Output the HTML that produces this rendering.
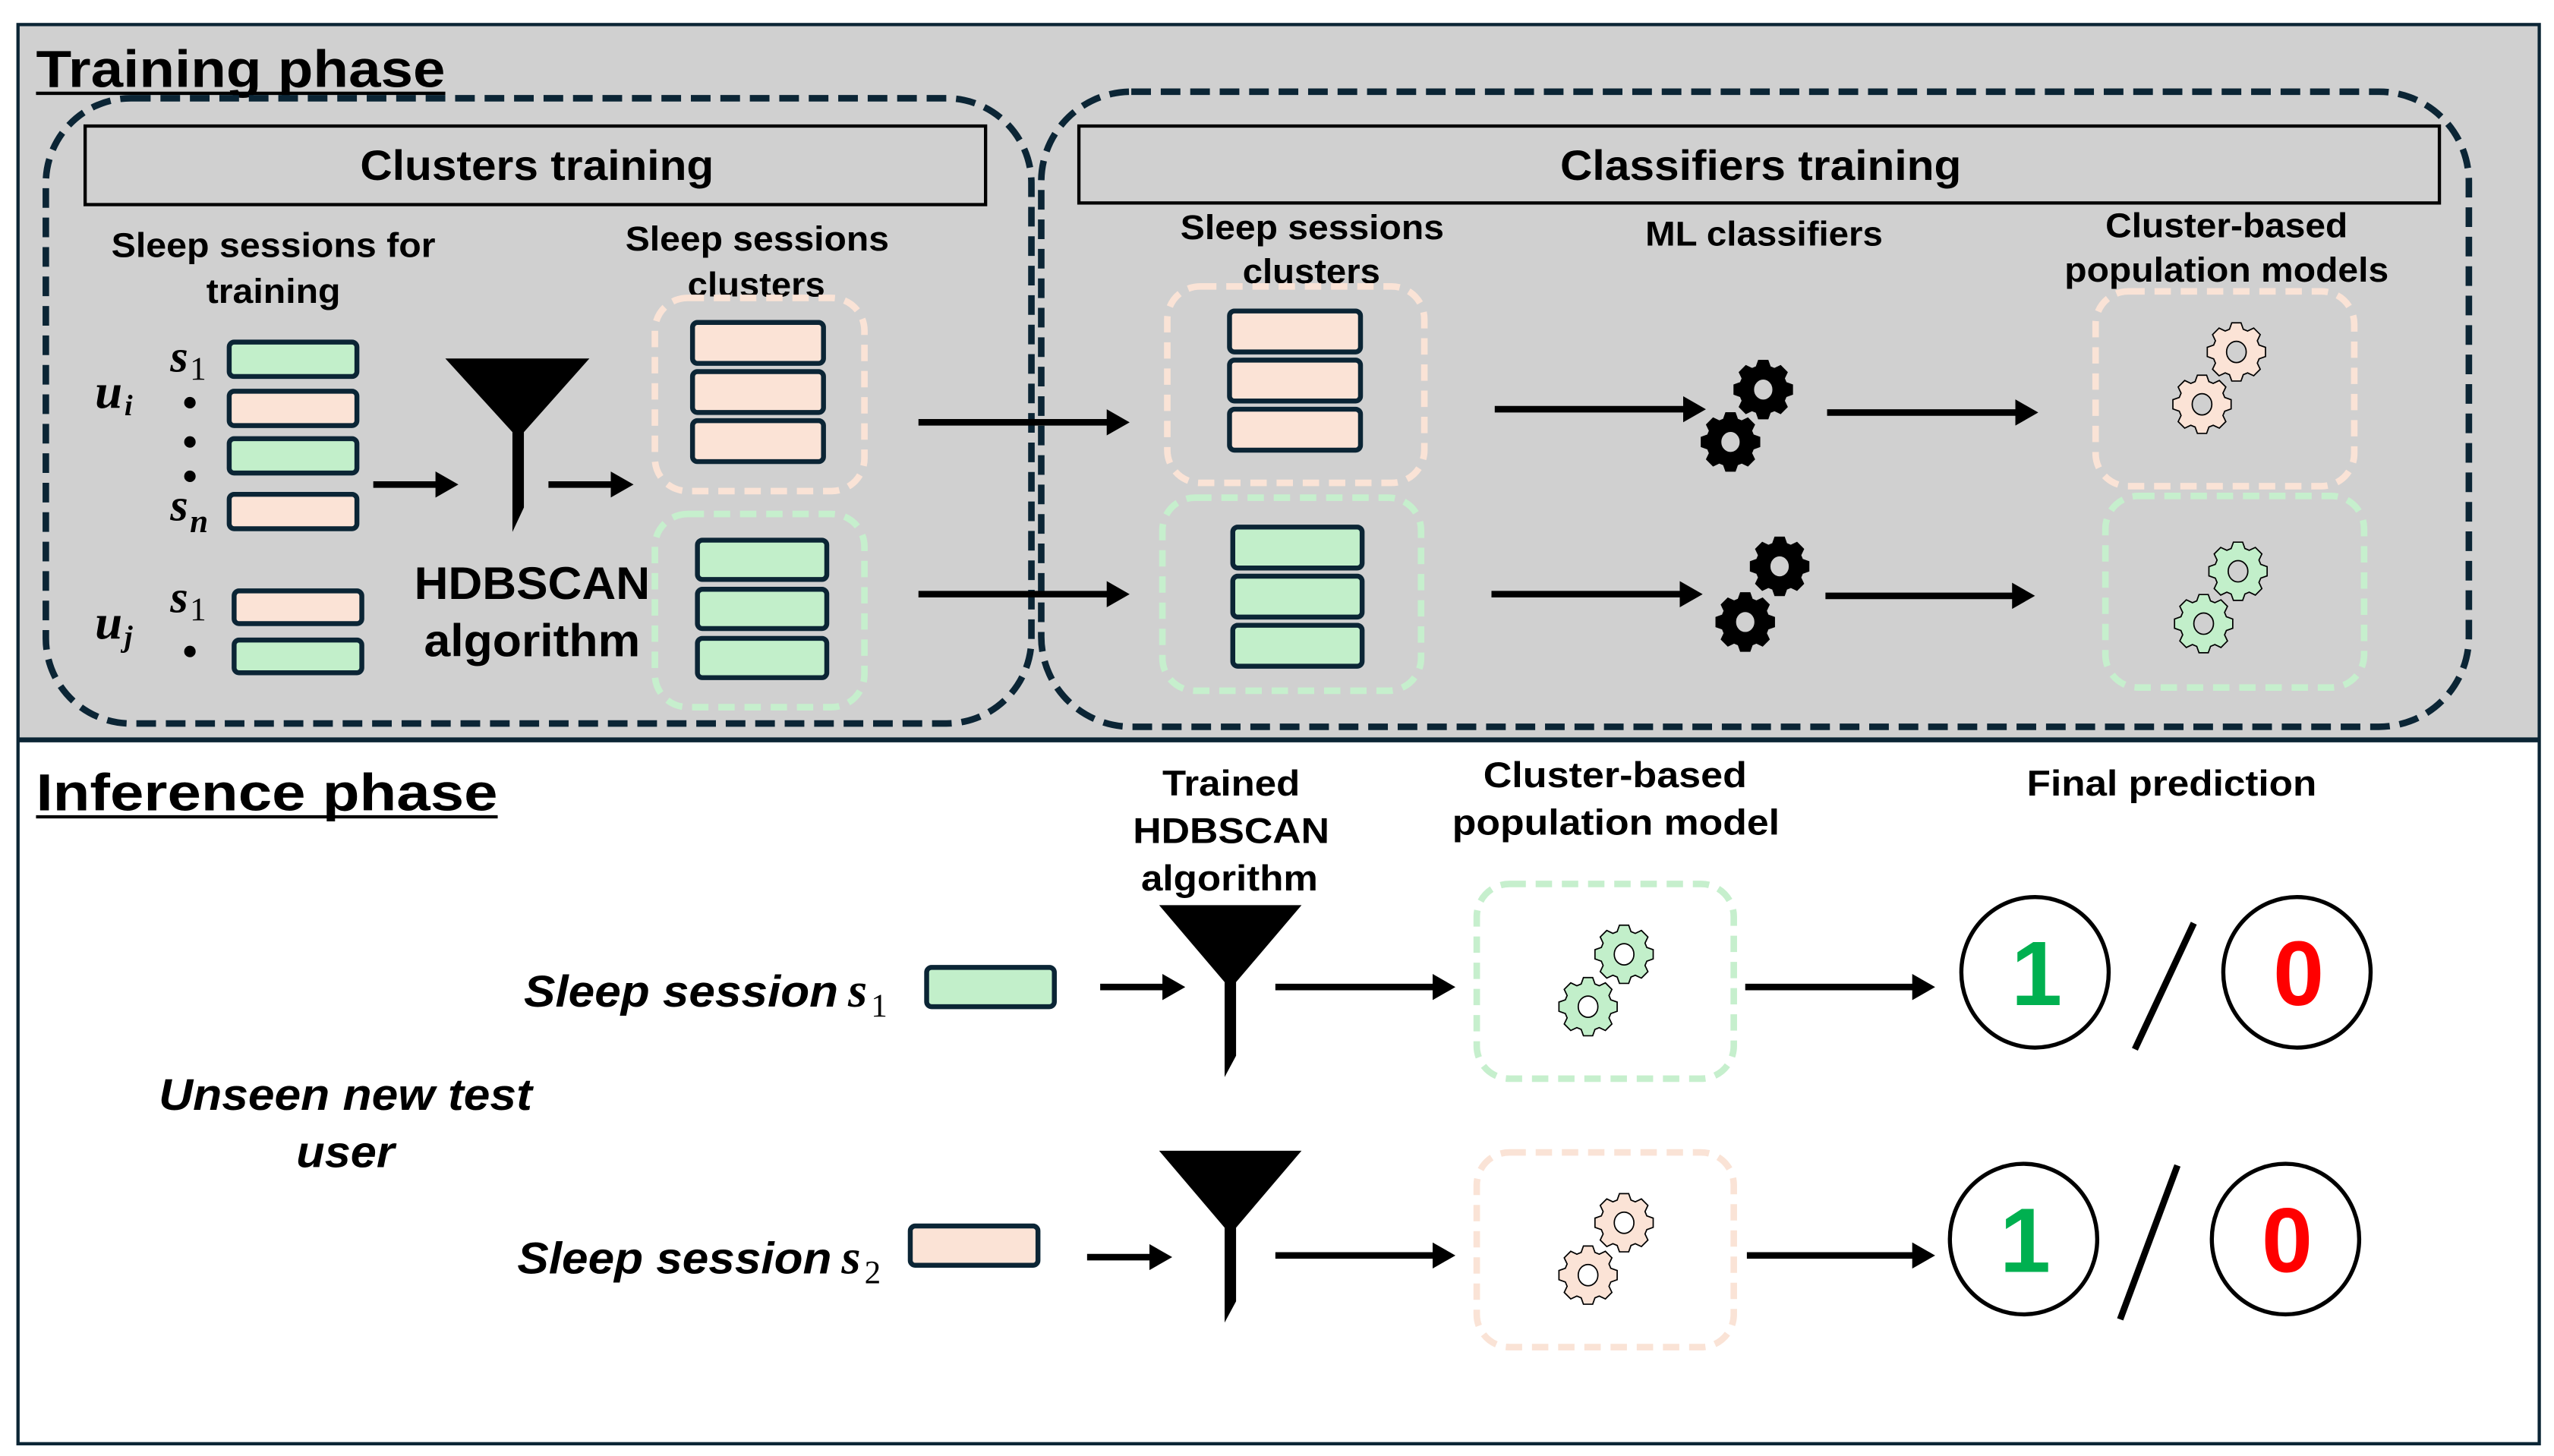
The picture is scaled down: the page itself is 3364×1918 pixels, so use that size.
<!DOCTYPE html>
<html><head><meta charset="utf-8"><style>
html,body{margin:0;padding:0;background:#fff;}
svg{display:block;}
text{font-family:"Liberation Sans",sans-serif;font-weight:bold;fill:#000;}
.m{font-family:"Liberation Serif",serif;font-style:italic;font-weight:bold;}
.n{font-family:"Liberation Serif",serif;font-weight:normal;}
</style></head><body>
<svg id="s" width="3364" height="1918" viewBox="0 0 1560 889.5" preserveAspectRatio="none" xmlns="http://www.w3.org/2000/svg">
<defs>
<path id="gear" d=""/>
<marker id="ah" markerWidth="14" markerHeight="16" refX="4" refY="8" orient="auto" markerUnits="userSpaceOnUse"><path d="M0,0 L14,8 L0,16 Z" fill="#000"/></marker>
</defs>
<rect x="0" y="0" width="1560" height="890" fill="#fff"/>
<rect x="11" y="15" width="1540" height="437" fill="#d0d0d0"/>
<rect x="11" y="15" width="1540" height="867" fill="none" stroke="#0b2535" stroke-width="2"/>
<line x1="11" y1="452" x2="1551" y2="452" stroke="#0b2535" stroke-width="3"/>

<text x="22" y="53" font-size="32" textLength="250" lengthAdjust="spacingAndGlyphs">Training phase</text>
<line x1="22" y1="57" x2="272" y2="57" stroke="#000" stroke-width="2"/>

<rect x="28" y="60" width="602" height="382" rx="52" fill="none" stroke="#0b2535" stroke-width="4" stroke-dasharray="12 6"/>
<rect x="636" y="56" width="872" height="388" rx="55" fill="none" stroke="#0b2535" stroke-width="4" stroke-dasharray="12 6"/>
<rect x="52" y="77" width="550" height="48" fill="none" stroke="#000" stroke-width="2"/>
<rect x="659" y="77" width="831" height="47" fill="none" stroke="#000" stroke-width="2"/>
<text x="220" y="110" font-size="26" textLength="216" lengthAdjust="spacingAndGlyphs">Clusters training</text>
<text x="953" y="110" font-size="26" textLength="245" lengthAdjust="spacingAndGlyphs">Classifiers training</text>

<g font-size="21">
<text x="68" y="157" textLength="198" lengthAdjust="spacingAndGlyphs">Sleep sessions for</text>
<text x="126" y="185" textLength="82" lengthAdjust="spacingAndGlyphs">training</text>
<text x="382" y="153" textLength="161" lengthAdjust="spacingAndGlyphs">Sleep sessions</text>
<text x="420" y="181" textLength="84" lengthAdjust="spacingAndGlyphs">clusters</text>
<text x="721" y="146" textLength="161" lengthAdjust="spacingAndGlyphs">Sleep sessions</text>
<text x="759" y="173" textLength="84" lengthAdjust="spacingAndGlyphs">clusters</text>
<text x="1005" y="150" textLength="145" lengthAdjust="spacingAndGlyphs">ML classifiers</text>
<text x="1286" y="145" textLength="148" lengthAdjust="spacingAndGlyphs">Cluster-based</text>
<text x="1261" y="172" textLength="198" lengthAdjust="spacingAndGlyphs">population models</text>
</g>

<g stroke="#0b2535" stroke-width="3">
<rect x="140" y="209" width="78" height="21" rx="3" fill="#c2efca"/>
<rect x="140" y="239" width="78" height="21" rx="3" fill="#fbe3d6"/>
<rect x="140" y="268" width="78" height="21" rx="3" fill="#c2efca"/>
<rect x="140" y="302" width="78" height="21" rx="3" fill="#fbe3d6"/>
<rect x="143" y="361" width="78" height="20" rx="3" fill="#fbe3d6"/>
<rect x="143" y="391" width="78" height="20" rx="3" fill="#c2efca"/>
<rect x="423" y="197" width="80" height="25" rx="3" fill="#fbe3d6"/>
<rect x="423" y="227" width="80" height="25" rx="3" fill="#fbe3d6"/>
<rect x="423" y="257" width="80" height="25" rx="3" fill="#fbe3d6"/>
<rect x="426" y="330" width="79" height="24" rx="3" fill="#c2efca"/>
<rect x="426" y="360" width="79" height="24" rx="3" fill="#c2efca"/>
<rect x="426" y="390" width="79" height="24" rx="3" fill="#c2efca"/>
<rect x="751" y="190" width="80" height="25" rx="3" fill="#fbe3d6"/>
<rect x="751" y="220" width="80" height="25" rx="3" fill="#fbe3d6"/>
<rect x="751" y="250" width="80" height="25" rx="3" fill="#fbe3d6"/>
<rect x="753" y="322" width="79" height="25" rx="3" fill="#c2efca"/>
<rect x="753" y="352" width="79" height="25" rx="3" fill="#c2efca"/>
<rect x="753" y="382" width="79" height="25" rx="3" fill="#c2efca"/>
<rect x="566" y="591" width="78" height="24" rx="3" fill="#c2efca"/>
<rect x="556" y="749" width="78" height="24" rx="3" fill="#fbe3d6"/>
</g>

<text class="m" x="58" y="249" font-size="30">u</text><text class="m" x="76" y="254" font-size="18">i</text>
<text class="m" x="104" y="227" font-size="28">s</text><text class="n" x="116" y="232" font-size="20">1</text>
<text class="m" x="104" y="318" font-size="28">s</text><text class="m" x="116" y="325" font-size="20">n</text>
<text class="m" x="58" y="390" font-size="30">u</text><text class="m" x="76" y="395" font-size="18">j</text>
<text class="m" x="104" y="374" font-size="28">s</text><text class="n" x="116" y="379" font-size="20">1</text>
<g fill="#000"><circle cx="116" cy="246" r="3.5"/><circle cx="116" cy="270" r="3.5"/><circle cx="116" cy="291" r="3.5"/><circle cx="116" cy="398" r="3.5"/></g>

<path d="M272,219 L360,219 L320,264 L320,310 L313,325 L313,264 Z" fill="#000"/>
<path d="M708,553 L795,553 L755,600 L755,645 L748,658 L748,600 Z" fill="#000"/>
<path d="M708,703 L795,703 L755,750 L755,795 L748,808 L748,750 Z" fill="#000"/>

<text x="253" y="366" font-size="28" textLength="144" lengthAdjust="spacingAndGlyphs">HDBSCAN</text>
<text x="259" y="401" font-size="28" textLength="132" lengthAdjust="spacingAndGlyphs">algorithm</text>

<g fill="none" stroke-width="4" stroke-dasharray="10 6">
<rect x="400" y="182" width="128" height="118" rx="20" stroke="#fae3d6"/>
<rect x="400" y="314" width="128" height="118" rx="20" stroke="#c6efcd"/>
<rect x="713" y="175" width="157" height="120" rx="20" stroke="#fae3d6"/>
<rect x="710" y="304" width="158" height="118" rx="20" stroke="#c6efcd"/>
<rect x="1280" y="178" width="158" height="119" rx="20" stroke="#fae3d6"/>
<rect x="1286" y="303" width="158" height="117" rx="20" stroke="#c6efcd"/>
<rect x="902" y="540" width="157" height="119" rx="20" stroke="#c6efcd"/>
<rect x="902" y="704" width="157" height="119" rx="20" stroke="#fae3d6"/>
</g>

<g stroke="#000" stroke-width="4" marker-end="url(#ah)">
<line x1="228" y1="296" x2="270" y2="296"/>
<line x1="335" y1="296" x2="377" y2="296"/>
<line x1="561" y1="258" x2="680" y2="258"/>
<line x1="561" y1="363" x2="680" y2="363"/>
<line x1="913" y1="250" x2="1032" y2="250"/>
<line x1="911" y1="363" x2="1030" y2="363"/>
<line x1="1116" y1="252" x2="1235" y2="252"/>
<line x1="1115" y1="364" x2="1233" y2="364"/>
<line x1="672" y1="603" x2="714" y2="603"/>
<line x1="779" y1="603" x2="879" y2="603"/>
<line x1="1066" y1="603" x2="1172" y2="603"/>
<line x1="664" y1="768" x2="706" y2="768"/>
<line x1="779" y1="767" x2="879" y2="767"/>
<line x1="1067" y1="767" x2="1172" y2="767"/>
</g>

<g fill="#000" stroke="#000" stroke-width="0.8">
<use href="#gear" transform="translate(1077,238)"/>
<use href="#gear" transform="translate(1057,270)"/>
<use href="#gear" transform="translate(1087,346)"/>
<use href="#gear" transform="translate(1066,380)"/>
</g>
<g fill="#fbe3d6" stroke="#000" stroke-width="0.8">
<use href="#gear" transform="translate(1366,215)"/>
<use href="#gear" transform="translate(1345,247)"/>
<use href="#gear" transform="translate(992,747)"/>
<use href="#gear" transform="translate(970,779)"/>
</g>
<g fill="#c2efca" stroke="#000" stroke-width="0.8">
<use href="#gear" transform="translate(1367,349)"/>
<use href="#gear" transform="translate(1346,381)"/>
<use href="#gear" transform="translate(992,583)"/>
<use href="#gear" transform="translate(970,615)"/>
</g>

<text x="22" y="495" font-size="32" textLength="282" lengthAdjust="spacingAndGlyphs">Inference phase</text>
<line x1="22" y1="499" x2="304" y2="499" stroke="#000" stroke-width="2"/>
<g font-size="22">
<text x="710" y="486" textLength="84" lengthAdjust="spacingAndGlyphs">Trained</text>
<text x="692" y="515" textLength="120" lengthAdjust="spacingAndGlyphs">HDBSCAN</text>
<text x="697" y="544" textLength="108" lengthAdjust="spacingAndGlyphs">algorithm</text>
<text x="906" y="481" textLength="161" lengthAdjust="spacingAndGlyphs">Cluster-based</text>
<text x="887" y="510" textLength="200" lengthAdjust="spacingAndGlyphs">population model</text>
<text x="1238" y="486" textLength="177" lengthAdjust="spacingAndGlyphs">Final prediction</text>
</g>

<text x="320" y="615" font-size="27" font-style="italic" textLength="192" lengthAdjust="spacingAndGlyphs">Sleep session</text>
<text class="m" x="518" y="615" font-size="30">s</text><text class="n" x="532" y="621" font-size="20">1</text>
<text x="316" y="778" font-size="27" font-style="italic" textLength="192" lengthAdjust="spacingAndGlyphs">Sleep session</text>
<text class="m" x="514" y="778" font-size="30">s</text><text class="n" x="528" y="784" font-size="20">2</text>
<text x="97" y="678" font-size="27" font-style="italic" textLength="228" lengthAdjust="spacingAndGlyphs">Unseen new test</text>
<text x="181" y="713" font-size="27" font-style="italic" textLength="60" lengthAdjust="spacingAndGlyphs">user</text>

<g fill="none" stroke="#000" stroke-width="2.5">
<ellipse cx="1243" cy="594" rx="45" ry="46"/>
<ellipse cx="1403" cy="594" rx="45" ry="46"/>
<ellipse cx="1236" cy="757" rx="45" ry="46"/>
<ellipse cx="1396" cy="757" rx="45" ry="46"/>
<line x1="1340" y1="564" x2="1304" y2="641" stroke-width="4"/>
<line x1="1330" y1="712" x2="1295" y2="806" stroke-width="4"/>
</g>
<g font-size="56" text-anchor="middle">
<text x="1244" y="614" style="fill:#00b050">1</text>
<text x="1404" y="614" style="fill:#ff0000">0</text>
<text x="1237" y="777" style="fill:#00b050">1</text>
<text x="1397" y="777" style="fill:#ff0000">0</text>
</g>
</svg>
<script>
(function(){
 var R=18,r=14.5,n=8,d="";
 for(var k=0;k<n;k++){
  var a=k*2*Math.PI/n, w=Math.PI/n;
  var pts=[[r,a-w*0.75],[R,a-w*0.4],[R,a+w*0.4],[r,a+w*0.75]];
  pts.forEach(function(p,i){
   var x=(p[0]*Math.sin(p[1])).toFixed(2), y=(-p[0]*Math.cos(p[1])).toFixed(2);
   d+=(k==0&&i==0?"M":"L")+x+","+y+" ";
  });
 }
 d+="Z M0,-6.5 A6,6.5 0 1,0 0,6.5 A6,6.5 0 1,0 0,-6.5 Z";
 var g=document.getElementById("gear");
 g.setAttribute("d",d);g.setAttribute("fill-rule","evenodd");
})();
</script>
</body></html>
